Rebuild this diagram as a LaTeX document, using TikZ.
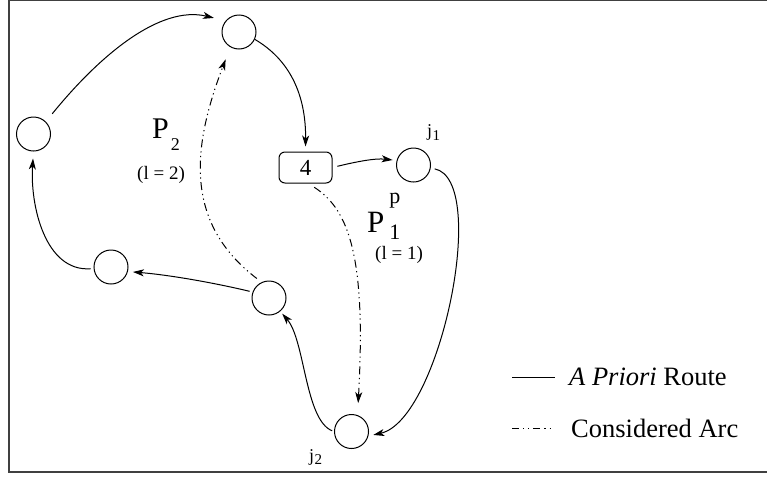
\documentclass[tikz,border=0pt]{standalone}
\usepackage{fontspec}
\setmainfont{Liberation Serif}
\usetikzlibrary{arrows.meta}
\begin{document}
\begin{tikzpicture}[x=1pt,y=-1pt,
  vtx/.style={circle,draw,line width=1pt,minimum size=34pt,inner sep=0pt},
  boxv/.style={draw,rounded corners=6pt,line width=1pt,minimum width=53pt,minimum height=31pt,inner sep=0pt},
  tip/.style={-{Stealth[length=11pt,width=7pt,inset=3pt]}},
  route/.style={line width=1pt,tip},
  consarc/.style={line width=1pt,dash pattern=on 8pt off 3.5pt on 1.2pt off 3.5pt on 1.2pt off 4pt,tip},
  lbl/.style={anchor=base west,inner sep=0pt},
]
\useasboundingbox (0,0) rectangle (767,477);
\draw[line width=1.2pt,color=black!75] (767,0.6) -- (9,0.6) -- (9,472) -- (767,472);

\node[vtx] (top) at (239,32) {};
\node[vtx] (left) at (33.5,134) {};
\node[boxv] (four) at (305.5,167.5) {\fontsize{23}{23}\selectfont 4};
\node[vtx] (j1) at (413.5,165) {};
\node[vtx] (rm) at (269,298) {};
\node[vtx] (ll) at (111,267) {};
\node[vtx] (j2) at (351.5,431.5) {};

% a priori route
\draw[route,shorten <=10pt,shorten >=12pt] (left.45) .. controls (100,55) and (160,5) .. (top.140);
\draw[route,shorten >=5pt] (top.-25) .. controls (290,60) and (306,95) .. (four.north);
\draw[route,shorten <=5pt,shorten >=4pt] (four.east) .. controls (355,162) and (375,158) .. (j1.165);
\draw[route,shorten <=4pt,shorten >=5pt] (j1.-10) .. controls (490,180) and (440,420) .. (j2.-15);
\draw[route,shorten <=2pt,shorten >=3pt] (j2.180) .. controls (305,420) and (305,340) .. (rm.-50);
\draw[route,shorten <=3pt,shorten >=5pt] (rm.160) .. controls (215,283) and (170,275) .. (ll.-15);
\draw[route,shorten <=3pt,shorten >=7pt] (ll.185) .. controls (45,272) and (30,205) .. (left.-90);

% considered arcs
\draw[consarc,shorten <=6pt,shorten >=13pt] (rm.115) .. controls (180,220) and (195,140) .. (top.-120);
\draw[consarc,shorten <=7pt,shorten >=12pt] (four.-80) .. controls (350,210) and (366,260) .. (j2.70);

% labels
\node[lbl] (p2) at (152,138) {\fontsize{30}{30}\selectfont P\kern2pt\raisebox{-12pt}{\fontsize{18}{18}\selectfont 2}};
\node[inner sep=0pt] (l2) at (161,174.5) {\fontsize{19}{19}\selectfont (l = 2)};
\node[lbl] (p1) at (367,232) {\fontsize{31}{31}\selectfont P\kern5pt\rlap{\raisebox{-7pt}{\fontsize{22}{22}\selectfont 1}}\raisebox{29pt}{\fontsize{22}{22}\selectfont p}};
\node[inner sep=0pt] (l1) at (399,255) {\fontsize{19}{19}\selectfont (l = 1)};
\node[lbl] (j1l) at (427,136) {\fontsize{18}{18}\selectfont j\kern0.5pt\raisebox{-4pt}{\fontsize{15}{15}\selectfont 1}};
\node[lbl] (j2l) at (309,461) {\fontsize{18}{18}\selectfont j\kern0.3pt\raisebox{-3pt}{\fontsize{15}{15}\selectfont 2}};

% legend
\draw[line width=1pt] (512,377) -- (555,377);
\node[lbl] (lg1) at (569,385) {\fontsize{26.5}{26.5}\selectfont\textit{A Priori} Route};
\draw[line width=1pt,dash pattern=on 7pt off 4pt on 1.2pt off 4pt on 1.2pt off 4pt] (512,428.5) -- (553,428.5);
\node[lbl] (lg2) at (571,437) {\fontsize{26.5}{26.5}\selectfont Considered Arc};
\end{tikzpicture}
\end{document}
